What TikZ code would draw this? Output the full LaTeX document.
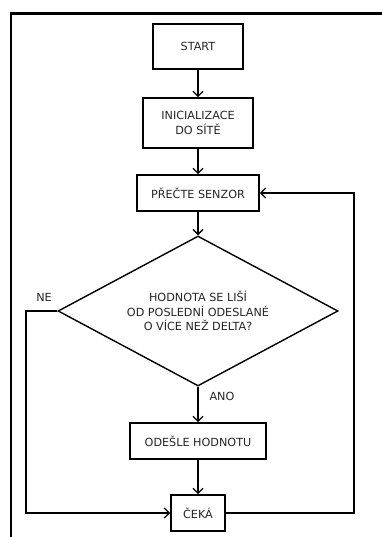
\documentclass[tikz,border=0pt]{standalone}
\usepackage{fontspec}
\setmainfont{DejaVu Sans}
\usetikzlibrary{arrows.meta,shapes.geometric}
\begin{document}
\begin{tikzpicture}[x=1pt,y=-1pt,
  every node/.style={font=\fontsize{11.2}{14.5}\selectfont, text=black!85},
  box/.style={draw, line width=1.7pt, rectangle, inner sep=0pt, align=center},
  dec/.style={draw, line width=1.4pt, diamond, aspect=1.87, inner sep=0pt, align=center, minimum width=280pt, minimum height=150pt},
  conn/.style={line width=1.3pt, -{Straight Barb[length=5pt,width=10pt,line width=1.3pt]}},
  lbl/.style={inner sep=0pt}
]
\useasboundingbox (0,0) rectangle (381,537);
\draw[line width=2.2pt] (11,540) -- (11,13.5) -- (385,13.5);

\node[box, minimum width=90pt, minimum height=45pt] (start) at (198,46.5) {START};
\node[box, minimum width=110pt, minimum height=50pt] (init) at (198,123) {INICIALIZACE\\DO SÍTĚ};
\node[box, minimum width=122pt, minimum height=36pt] (read) at (198,193) {PŘEČTE SENZOR};
\node[dec] (dia) at (198,311) {HODNOTA SE LIŠÍ\\OD POSLEDNÍ ODESLANÉ\\O VÍCE NEŽ DELTA?};
\node[box, minimum width=136pt, minimum height=36pt] (send) at (198,441) {ODEŠLE HODNOTU};
\node[box, minimum width=54pt, minimum height=36pt] (wait) at (198,513) {ČEKÁ};

\node[lbl] (ne) at (44,297) {NE};
\node[lbl] (ano) at (222,396) {ANO};

\coordinate (necorner) at (26,513);
\coordinate (loopcorner) at (354,513);
\coordinate (looptop) at (354,193);

\draw[conn] (start) -- (init);
\draw[conn] (init) -- (read);
\draw[conn] (read) -- (dia.north);
\draw[conn] (dia.south) -- (send);
\draw[conn] (send) -- (wait);
\draw[conn] (dia.west) -| (necorner) -- (wait.west);
\draw[conn] (wait.east) -- (loopcorner) -- (looptop) -- (read.east);
\end{tikzpicture}
\end{document}
